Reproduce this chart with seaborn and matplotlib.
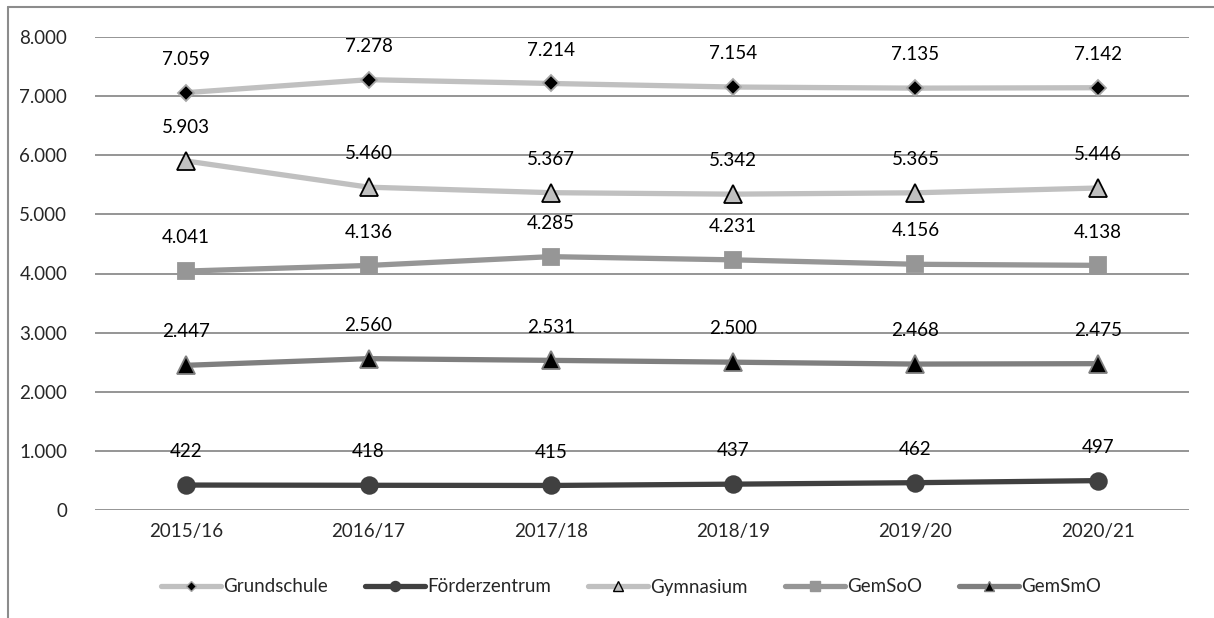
import pandas as pd
import seaborn as sns
import matplotlib.pyplot as plt
from matplotlib.lines import Line2D
from matplotlib.ticker import FuncFormatter

jahre = ['2015/16', '2016/17', '2017/18', '2018/19', '2019/20', '2020/21']
grundschule = [7059, 7278, 7214, 7154, 7135, 7142]
foerderzentrum = [422, 418, 415, 437, 462, 497]
gymnasium = [5903, 5460, 5367, 5342, 5365, 5446]
gemsoo = [4041, 4136, 4285, 4231, 4156, 4138]
gemsmo = [2447, 2560, 2531, 2500, 2468, 2475]

serien = [
    ('Grundschule', grundschule, '#c0c0c0', 'D', 8, 'black', '#a6a6a6'),
    ('Förderzentrum', foerderzentrum, '#404040', 'o', 12, '#404040', '#404040'),
    ('Gymnasium', gymnasium, '#c0c0c0', '^', 13, '#c0c0c0', 'black'),
    ('GemSoO', gemsoo, '#969696', 's', 11, '#969696', '#969696'),
    ('GemSmO', gemsmo, '#7f7f7f', '^', 13, 'black', '#7f7f7f'),
]

sns.set_theme(style='white')
plt.rcParams['font.family'] = ['Lato', 'DejaVu Sans']

fig = plt.figure(figsize=(12.14, 6.18), dpi=100)
ax = fig.add_axes([95 / 1214, 1 - 510 / 618, 1094 / 1214, 473 / 618])

def tausend(v, pos):
    return f'{int(v):,}'.replace(',', '.')

handles = []
for name, werte, farbe, marker, ms, fill, edge in serien:
    df = pd.DataFrame({'Jahr': jahre, 'Wert': werte})
    sns.lineplot(data=df, x='Jahr', y='Wert', ax=ax, color=farbe, linewidth=3.8,
                 marker=marker, markersize=ms, markerfacecolor=fill,
                 markeredgecolor=edge, markeredgewidth=1.3, zorder=3)
    for i, w in enumerate(werte):
        ax.annotate(tausend(w, None), (i, w), xytext=(0, 24), textcoords='offset points',
                    ha='center', va='center', fontsize=13.5, color='black')
    handles.append(Line2D([], [], color=farbe, linewidth=3.8, marker=marker,
                          markersize=ms * 0.6, markerfacecolor=fill,
                          markeredgecolor=edge, markeredgewidth=1, label=name))

ax.set_xlim(-0.5, 5.5)
ax.set_ylim(0, 8000)
ax.set_yticks(range(0, 8001, 1000))
ax.yaxis.set_major_formatter(FuncFormatter(tausend))
ax.grid(axis='y', color='#8c8c8c', linewidth=1.3)
ax.grid(axis='x', visible=False)
for s in ax.spines.values():
    s.set_visible(False)
ax.tick_params(axis='y', length=0, pad=20, labelsize=13.5)
ax.tick_params(axis='x', length=0, pad=9, labelsize=13.5)
ax.set_xlabel('')
ax.set_ylabel('')

fig.legend(handles=handles, loc='center', bbox_to_anchor=(631 / 1214, 1 - 587 / 618),
           ncol=5, frameon=False, fontsize=13.5, handlelength=3.2,
           handletextpad=0.1, columnspacing=2.0)

# Rahmen oben und links
fig.add_artist(Line2D([8 / 1214, 8 / 1214], [0, 1 - 7 / 618], transform=fig.transFigure,
                      color='#8c8c8c', linewidth=1.5))
fig.add_artist(Line2D([8 / 1214, 1.0], [1 - 7 / 618, 1 - 7 / 618], transform=fig.transFigure,
                      color='#8c8c8c', linewidth=1.5))

plt.savefig('out.png', dpi=100)
